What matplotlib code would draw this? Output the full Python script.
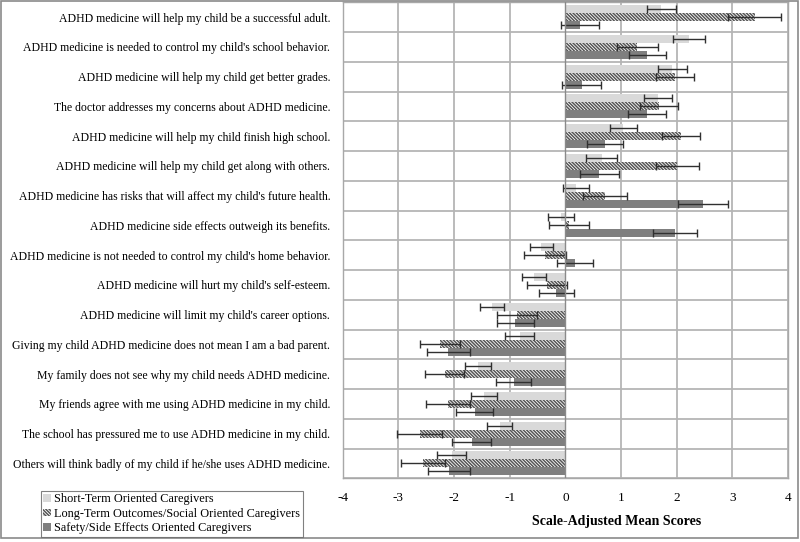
import matplotlib
matplotlib.use("Agg")
import numpy as np
import matplotlib.pyplot as plt
from matplotlib.patches import Patch, Rectangle

# ------------------------- Datos -------------------------

statements = [
    "ADHD medicine will help my child be a successful adult.",
    "ADHD medicine is needed to control my child's school behavior.",
    "ADHD medicine will help my child get better grades.",
    "The doctor addresses my concerns about ADHD medicine.",
    "ADHD medicine will help my child finish high school.",
    "ADHD medicine will help my child get along with others.",
    "ADHD medicine has risks that will affect my child's future health.",
    "ADHD medicine side effects outweigh its benefits.",
    "ADHD medicine is not needed to control my child's home behavior.",
    "ADHD medicine will hurt my child's self-esteem.",
    "ADHD medicine will limit my child's career options.",
    "Giving my child ADHD medicine does not mean I am a bad parent.",
    "My family does not see why my child needs ADHD medicine.",
    "My friends agree with me using ADHD medicine in my child.",
    "The school has pressured me to use ADHD medicine in my child.",
    "Others will think badly of my child if he/she uses ADHD medicine.",
]

series_names = [
    "Short-Term Oriented Caregivers",
    "Long-Term Outcomes/Social Oriented Caregivers",
    "Safety/Side Effects Oriented Caregivers",
]

short_term = [1.72, 2.22, 1.92, 1.67, 1.04, 0.65, 0.19, -0.08,
              -0.43, -0.56, -1.32, -0.82, -1.57, -1.46, -1.18, -2.04]
short_err = [0.26, 0.29, 0.26, 0.25, 0.24, 0.28, 0.23, 0.24,
             0.21, 0.22, 0.21, 0.26, 0.23, 0.24, 0.23, 0.26]

long_term = [3.40, 1.29, 1.97, 1.68, 2.08, 2.01, 0.71, 0.06,
             -0.36, -0.33, -0.87, -2.25, -2.17, -2.11, -2.62, -2.56]
long_err = [0.48, 0.37, 0.34, 0.34, 0.34, 0.39, 0.39, 0.36,
            0.38, 0.36, 0.36, 0.36, 0.35, 0.39, 0.41, 0.39]

safety = [0.27, 1.47, 0.29, 1.46, 0.71, 0.61, 2.47, 1.97,
          0.17, -0.16, -0.90, -2.10, -0.93, -1.63, -1.68, -2.09]
safety_err = [0.34, 0.33, 0.35, 0.34, 0.32, 0.35, 0.45, 0.39,
              0.32, 0.32, 0.33, 0.39, 0.31, 0.33, 0.35, 0.38]

x_ticks = [-4, -3, -2, -1, 0, 1, 2, 3, 4]

HATCH = "\\" * 10

# ------------------------- Grafico -------------------------


def main():
    plt.rcParams["font.family"] = ["Liberation Serif", "DejaVu Serif"]
    plt.rcParams["hatch.linewidth"] = 1.1

    fig = plt.figure(figsize=(8, 5.42), dpi=100)
    ax = fig.add_axes([0.4284, 0.1175, 0.5566, 0.8783])

    y = np.arange(len(statements))
    h = 0.27
    err_kw = dict(ecolor="#303030", elinewidth=1.0, capsize=3, capthick=1.0)

    ax.barh(y - h, short_term, height=h, color="#d9d9d9",
            xerr=short_err, error_kw=err_kw, zorder=3)
    ax.barh(y, long_term, height=h, color="white", edgecolor="#555555",
            linewidth=0, hatch=HATCH, xerr=long_err,
            error_kw=err_kw, zorder=3)
    ax.barh(y + h, safety, height=h, color="#7f7f7f",
            xerr=safety_err, error_kw=err_kw, zorder=3)

    ax.set_xlim(-4, 4)
    ax.set_ylim(len(statements) - 0.5, -0.5)
    ax.set_xticks(x_ticks)
    ax.set_xticklabels([str(t) for t in x_ticks], fontsize=9.5)
    ax.set_yticks(y)
    ax.set_yticklabels(statements, fontsize=8.5)
    ax.tick_params(axis="both", length=0)
    ax.tick_params(axis="x", pad=10)
    ax.tick_params(axis="y", pad=9)

    # lineas de la grilla
    for xv in x_ticks:
        if xv == 0:
            continue
        ax.axvline(xv, color="#b5b5b5", linewidth=1.3, zorder=1)
    ax.axvline(0, color="#8a8a8a", linewidth=1.0, zorder=4)
    for yv in np.arange(-0.5, len(statements), 1.0):
        ax.axhline(yv, color="#b5b5b5", linewidth=1.3, zorder=1)
    for s in ax.spines.values():
        s.set_color("#a8a8a8")
        s.set_linewidth(1.0)

    fig.text(0.771, 0.038, "Scale-Adjusted Mean Scores", ha="center",
             va="center", fontsize=10, fontweight="bold")

    handles = [
        Patch(facecolor="#d9d9d9", edgecolor="#d9d9d9", linewidth=0),
        Patch(facecolor="white", edgecolor="#555555", linewidth=0,
              hatch=HATCH),
        Patch(facecolor="#7f7f7f", edgecolor="#7f7f7f", linewidth=0),
    ]
    leg = fig.legend(handles, series_names, loc="lower left",
                     bbox_to_anchor=(0.051, 0.01), fontsize=8.8,
                     frameon=True, fancybox=False, handlelength=0.6,
                     handleheight=0.6, handletextpad=0.3, labelspacing=0.2,
                     borderpad=0.2, borderaxespad=0.0)
    leg.get_frame().set_edgecolor("#606060")
    leg.get_frame().set_linewidth(0.8)

    # marco exterior
    fig.patches.append(Rectangle((0.001, 0.007), 0.996, 0.991,
                                 transform=fig.transFigure, fill=False,
                                 edgecolor="#8a8a8a", linewidth=1.2))

    fig.savefig("out.png", dpi=100)
    plt.close(fig)


if __name__ == "__main__":
    main()
